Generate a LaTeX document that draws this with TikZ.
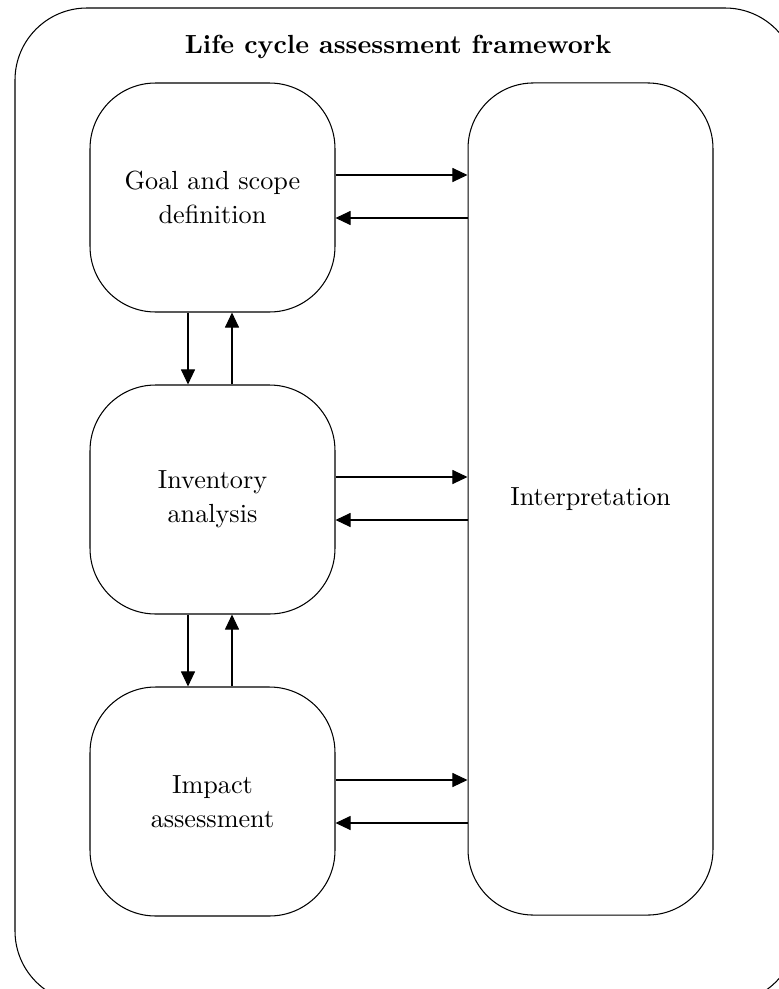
\documentclass[tikz,border=0pt]{standalone}
\usetikzlibrary{arrows.meta}
\begin{document}
\begin{tikzpicture}[x=0.3817pt,y=-0.3817pt,
  stage/.style={draw, rounded corners=25pt, align=center,
    minimum width=93.5pt, minimum height=87.4pt, inner sep=0pt},
  flow/.style={-{Triangle[length=5.8pt,width=5.4pt]}}]
  \useasboundingbox (0,0) rectangle (779,989);
  \clip (0,0) rectangle (779,989);
  % framework frame
  \draw[rounded corners=27.5pt] (15,8) rectangle (797,1003);
  \node[font=\bfseries] (title) at (398,47) {Life cycle assessment framework};
  % phases
  \node[stage] (goal) at (212.5,197.5) {Goal and scope\\[1pt]definition};
  \node[stage] (inv) at (212.5,499.5) {Inventory\\[1pt]analysis};
  \node[stage] (imp) at (212.5,801.5) {Impact\\[1pt]assessment};
  \node[stage, minimum height=317.6pt] (interp) at (590.5,499) {Interpretation};
  % links to interpretation
  \draw[flow] (goal.east |- 0,175) -- (interp.west |- 0,175);
  \draw[flow] (interp.west |- 0,218) -- (goal.east |- 0,218);
  \draw[flow] (inv.east |- 0,477) -- (interp.west |- 0,477);
  \draw[flow] (interp.west |- 0,520) -- (inv.east |- 0,520);
  \draw[flow] (imp.east |- 0,780) -- (interp.west |- 0,780);
  \draw[flow] (interp.west |- 0,823) -- (imp.east |- 0,823);
  % links between phases
  \draw[flow] (goal.south -| 188,0) -- (inv.north -| 188,0);
  \draw[flow] (inv.north -| 232,0) -- (goal.south -| 232,0);
  \draw[flow] (inv.south -| 188,0) -- (imp.north -| 188,0);
  \draw[flow] (imp.north -| 232,0) -- (inv.south -| 232,0);
\end{tikzpicture}
\end{document}
